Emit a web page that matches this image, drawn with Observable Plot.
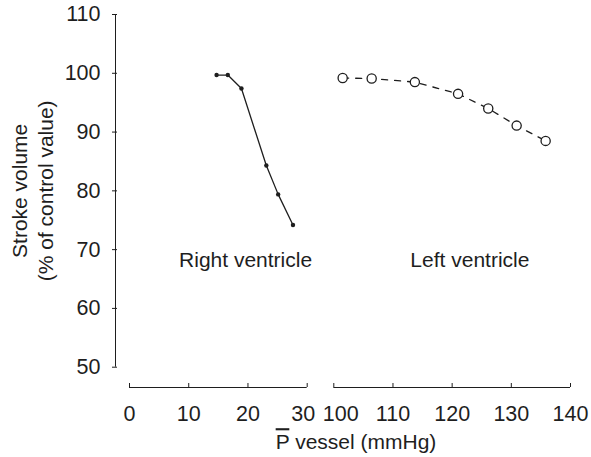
<!DOCTYPE html>
<html><head><meta charset="utf-8">
<script src="https://cdn.jsdelivr.net/npm/d3@7"></script>
<script src="https://cdn.jsdelivr.net/npm/@observablehq/plot@0.6"></script>
<style>body{margin:0;background:#fff}</style>
</head><body><div id="chart"></div>
<script>
// Right ventricle (filled dots, solid line)
const rvX = [14.7, 16.6, 18.9, 23.1, 25.1, 27.6];
const rvY = [99.7, 99.7, 97.4, 84.3, 79.4, 74.2];
// Left ventricle (open circles, dashed line)
const lvX = [101.5, 106.4, 113.7, 121.0, 126.1, 130.9, 135.8];
const lvY = [99.2, 99.1, 98.5, 96.5, 94.0, 91.1, 88.5];
// Axes
const xTicks = [0, 10, 20, 30, 100, 110, 120, 130, 140];
const xTicksLeftEdge = [30];
const xTicksRightEdge = [100];
const xTicksPlain = [0, 10, 20, 110, 120, 130, 140];
const yTicks = [50, 60, 70, 80, 90, 100, 110];
const xSegments = [[0, 30], [100, 140]];
// Annotations
const annText = ["Right ventricle", "Left ventricle"];
const annX = [19.6, 123.0];
const annY = [68.2, 68.2];
const yLabel = "Stroke volume\n(% of control value)";
const xLabel = "P vessel (mmHg)";

const rv = rvX.map((x, i) => ({x, y: rvY[i]}));
const lv = lvX.map((x, i) => ({x, y: lvY[i]}));
const ann = annText.map((t, i) => ({t, x: annX[i], y: annY[i]}));
const ink = "#1e1e1e";
const fs = 21;
const tfs = 21.5;

const chart = Plot.plot({
  width: 591, height: 457,
  marginLeft: 115, marginRight: 21, marginTop: 14, marginBottom: 90.3,
  style: {fontFamily: "'Liberation Sans', Arial, Helvetica, sans-serif", fontSize: fs + "px", color: ink, background: "white"},
  x: {type: "linear", domain: [0, 30, 100, 140], range: [129, 306.7, 333.3, 570]},
  y: {domain: [50, 110]},
  marks: [
    // y axis
    Plot.ruleX([0], {x: d => d, y1: () => 50, y2: () => 110, dx: -14, stroke: ink}),
    Plot.axisY({ticks: yTicks, tickSize: 5, tickPadding: 12, label: null, fontSize: tfs, stroke: ink, dx: 2}),
    // x axis (broken)
    Plot.ruleY(xSegments, {x1: d => d[0], x2: d => d[1], y: () => 50, dy: 20.3, stroke: ink}),
    Plot.axisX({ticks: xTicks, tickSize: -4, dy: 20.3, text: null, label: null, stroke: ink}),
    Plot.axisX({ticks: xTicksPlain, tickSize: 0, tickPadding: 18, dy: 20.3, label: null, fontSize: tfs, fill: ink}),
    Plot.axisX({ticks: xTicksLeftEdge, tickSize: 0, tickPadding: 18, dy: 20.3, dx: -4, label: null, fontSize: tfs, fill: ink}),
    Plot.axisX({ticks: xTicksRightEdge, tickSize: 0, tickPadding: 18, dy: 20.3, dx: 7, label: null, fontSize: tfs, fill: ink}),
    // data
    Plot.line(rv, {x: "x", y: "y", stroke: ink, strokeWidth: 1.3}),
    Plot.dot(rv, {x: "x", y: "y", r: 2.2, fill: ink}),
    Plot.line(lv, {x: "x", y: "y", stroke: ink, strokeWidth: 1.3, strokeDasharray: "6,7"}),
    Plot.dot(lv, {x: "x", y: "y", r: 4.6, fill: "white", stroke: ink, strokeWidth: 1.3}),
    // labels
    Plot.text(ann, {x: "x", y: "y", text: "t", fontSize: fs, fill: ink}),
    Plot.text([yLabel], {frameAnchor: "left", textAnchor: "middle", rotate: -90, dx: -83.5, lineHeight: 1.2, fontSize: fs, fill: ink}),
    Plot.text([xLabel], {frameAnchor: "bottom", dx: 13, dy: 82, fontSize: fs, fill: ink})
  ]
});
document.getElementById("chart").appendChild(chart);

// overline on the P of the x label
chart.querySelectorAll("text").forEach(t => {
  if (t.textContent === xLabel) {
    t.textContent = "";
    const ns = "http://www.w3.org/2000/svg";
    const p = document.createElementNS(ns, "tspan");
    p.textContent = "P";
    p.setAttribute("style", "text-decoration: overline; text-decoration-thickness: 2px");
    t.appendChild(p);
    t.appendChild(document.createTextNode(xLabel.slice(1)));
  }
});
</script>
</body></html>
